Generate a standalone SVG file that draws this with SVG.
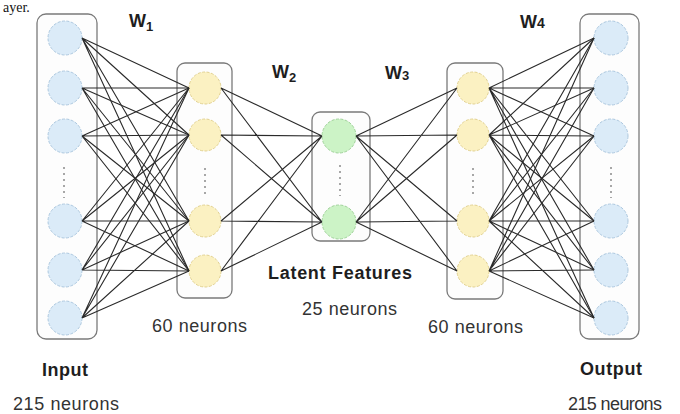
<svg xmlns="http://www.w3.org/2000/svg" width="680" height="414" viewBox="0 0 680 414">
<style>
.box{fill:#fdfdfd;stroke:#7a7a7a;stroke-width:1.3}
.blue{fill:#dbebf8;stroke:#adc8df;stroke-width:1;stroke-dasharray:3 1.5}
.yel{fill:#fbf1c2;stroke:#e2d292;stroke-width:1;stroke-dasharray:3 1.5}
.grn{fill:#ccf3c6;stroke:#a0d29a;stroke-width:1;stroke-dasharray:3 1.5}
.dots{stroke:#8a8a8a;stroke-width:1.5;stroke-dasharray:2 4;fill:none}
.c path{fill:none;stroke:#2a2a2a;stroke-width:1.1}
.b{font-family:"Liberation Sans",Arial,sans-serif;font-weight:bold;font-size:18px;fill:#1e1e1e}
.n{font-family:"Liberation Sans",Arial,sans-serif;font-size:18px;fill:#333}
</style>
<rect width="680" height="414" fill="#fff"/>
<text x="3" y="12" font-family="'Liberation Serif',serif" font-size="14" fill="#111">ayer.</text>

<g id="input-layer">
<rect class="box" x="37" y="14" width="60" height="325" rx="9"/>
<circle class="blue" cx="65" cy="38" r="17"/>
<circle class="blue" cx="65" cy="88" r="17"/>
<circle class="blue" cx="65" cy="136" r="17"/>
<line class="dots" x1="64" y1="167" x2="64" y2="198"/>
<circle class="blue" cx="65" cy="221" r="17"/>
<circle class="blue" cx="65" cy="270" r="17"/>
<circle class="blue" cx="65" cy="318" r="17"/>
</g>

<g id="hidden-layer-1">
<rect class="box" x="177" y="63" width="55" height="235" rx="8"/>
<circle class="yel" cx="205" cy="88" r="16"/>
<circle class="yel" cx="205" cy="135" r="16"/>
<line class="dots" x1="205" y1="168" x2="205" y2="198"/>
<circle class="yel" cx="205" cy="221" r="16"/>
<circle class="yel" cx="205" cy="271" r="16"/>
</g>

<g id="latent-layer">
<rect class="box" x="312" y="112" width="58" height="129" rx="8"/>
<circle class="grn" cx="339" cy="136" r="17"/>
<line class="dots" x1="340" y1="165" x2="340" y2="196"/>
<circle class="grn" cx="339" cy="222" r="17"/>
</g>

<g id="hidden-layer-2">
<rect class="box" x="447" y="63" width="56" height="236" rx="8"/>
<circle class="yel" cx="473" cy="88" r="16"/>
<circle class="yel" cx="473" cy="135" r="16"/>
<line class="dots" x1="473" y1="168" x2="473" y2="198"/>
<circle class="yel" cx="473" cy="221" r="16"/>
<circle class="yel" cx="473" cy="271" r="16"/>
</g>

<g id="output-layer">
<rect class="box" x="580" y="14" width="59" height="325" rx="9"/>
<circle class="blue" cx="611" cy="38" r="17"/>
<circle class="blue" cx="611" cy="88" r="17"/>
<circle class="blue" cx="611" cy="136" r="17"/>
<line class="dots" x1="611" y1="167" x2="611" y2="198"/>
<circle class="blue" cx="611" cy="221" r="17"/>
<circle class="blue" cx="611" cy="270" r="17"/>
<circle class="blue" cx="611" cy="318" r="17"/>
</g>

<g id="connectors" class="c">
<path d="M82 38L189 88M82 38L189 135M82 38L189 221M82 38L189 271"/>
<path d="M82 88L189 88M82 88L189 135M82 88L189 221M82 88L189 271"/>
<path d="M82 136L189 88M82 136L189 135M82 136L189 221M82 136L189 271"/>
<path d="M82 221L189 88M82 221L189 135M82 221L189 221M82 221L189 271"/>
<path d="M82 270L189 88M82 270L189 135M82 270L189 221M82 270L189 271"/>
<path d="M82 318L189 88M82 318L189 135M82 318L189 221M82 318L189 271"/>
<path d="M221 88L322 136M221 88L322 222M221 135L322 136M221 135L322 222M221 221L322 136M221 221L322 222M221 271L322 136M221 271L322 222"/>
<path d="M356 136L457 88M356 136L457 135M356 136L457 221M356 136L457 271M356 222L457 88M356 222L457 135M356 222L457 221M356 222L457 271"/>
<path d="M489 88L594 38M489 88L594 88M489 88L594 136M489 88L594 221M489 88L594 270M489 88L594 318"/>
<path d="M489 135L594 38M489 135L594 88M489 135L594 136M489 135L594 221M489 135L594 270M489 135L594 318"/>
<path d="M489 221L594 38M489 221L594 88M489 221L594 136M489 221L594 221M489 221L594 270M489 221L594 318"/>
<path d="M489 271L594 38M489 271L594 88M489 271L594 136M489 271L594 221M489 271L594 270M489 271L594 318"/>
</g>

<g id="labels">
<text class="b" x="129" y="27">W<tspan font-size="13" dy="4">1</tspan></text>
<text class="b" x="272" y="78">W<tspan font-size="13" dy="4">2</tspan></text>
<text class="b" x="385" y="79">W<tspan font-size="13" dy="1">3</tspan></text>
<text class="b" x="520" y="28">W<tspan font-size="14">4</tspan></text>
<text class="b" x="42" y="376" textLength="46">Input</text>
<text class="n" x="13" y="410" textLength="106">215 neurons</text>
<text class="n" x="152" y="332" textLength="95">60 neurons</text>
<text class="b" x="268" y="279" textLength="144">Latent Features</text>
<text class="n" x="302" y="315" textLength="95">25 neurons</text>
<text class="n" x="428" y="333" textLength="95">60 neurons</text>
<text class="b" x="580" y="375" textLength="62">Output</text>
<text class="n" x="568" y="410" textLength="94">215 neurons</text>
</g>
</svg>
